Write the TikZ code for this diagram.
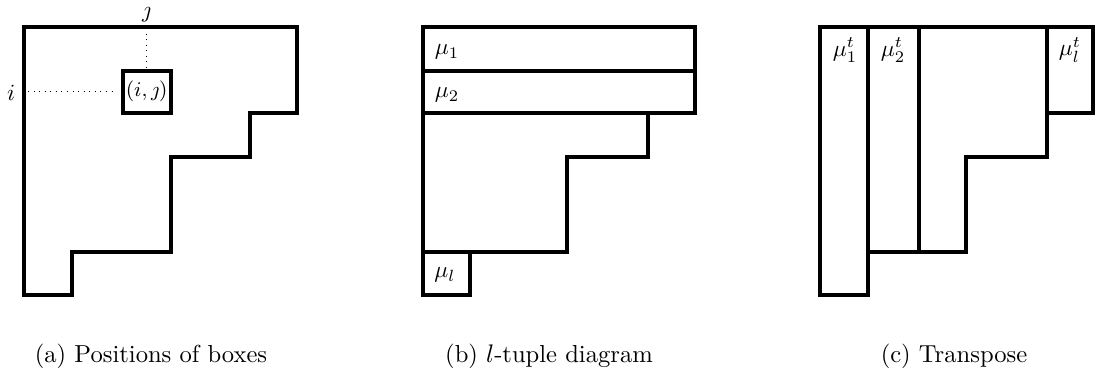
\documentclass[tikz,border=0pt]{standalone}
\usepackage{amsmath}
\usepackage{amssymb}
\usepackage{tikz}

\tikzset{
  thickline/.style={line width=1.7pt, line join=miter},
  caption/.style={anchor=base, font=\fontsize{10.6}{12.7}\selectfont},
}

\begin{document}
\begin{tikzpicture}[x=0.01515cm, y=-0.01515cm]
  \useasboundingbox (0,0) rectangle (1097,385);
  % (a) positions of boxes
  \draw [thickline] (24,26.7) -- (297,26.7) -- (297,112.7) -- (250,112.7) -- (250,156.7) -- (170.7,156.7) -- (170.7,251.7) -- (71.7,251.7) -- (71.7,295) -- (24,295) -- cycle;
  \node (ij) [draw, thickline, minimum width=0.727cm, minimum height=0.636cm, inner sep=0pt] at (146.7,91.7) {\small $(i,\jmath)$};
  \node (jlab) at (146.7,15) {$\jmath$};
  \node (ilab) at (11,93) {$i$};
  \coordinate (jtop) at (146.7,28);
  \coordinate (ileft) at (28,91.7);
  \draw [dotted] (jtop) -- (ij.north);
  \draw [dotted] (ileft) -- ([xshift=-0.06cm]ij.west);
  \node (capa) [caption] at (151,362) {(a)\ Positions of boxes};
  % (b) l-tuple diagram
  \draw [thickline] (422.7,26.7) -- (695,26.7) -- (695,113.3) -- (648.3,113.3) -- (648.3,156.7) -- (567.3,156.7) -- (567.3,251.7) -- (470,251.7) -- (470,295) -- (422.7,295) -- cycle;
  \draw [thickline] (422.7,70.7) -- (695,70.7);
  \draw [thickline] (422.7,113.3) -- (695,113.3);
  \draw [thickline] (422.7,251.7) -- (470,251.7);
  \node (mu1) at (447,52) {$\mu_1$};
  \node (mu2) at (447,95) {$\mu_2$};
  \node (mul) at (445,275) {$\mu_l$};
  \node (capb) [caption] at (549,362) {(b)\ $l$-tuple diagram};
  % (c) transpose
  \draw [thickline] (820,26.7) -- (1093.3,26.7) -- (1093.3,112.7) -- (1047.3,112.7) -- (1047.3,156.7) -- (965.7,156.7) -- (965.7,251.7) -- (868.3,251.7) -- (868.3,295) -- (820,295) -- cycle;
  \draw [thickline] (868.3,26.7) -- (868.3,251.7);
  \draw [thickline] (919.3,26.7) -- (919.3,251.7);
  \draw [thickline] (1047.3,26.7) -- (1047.3,112.7);
  \node (mut1) [inner sep=1pt] at (845,50) {$\mu_1^t$};
  \node (mut2) [inner sep=1pt] at (893,50) {$\mu_2^t$};
  \node (mutl) [inner sep=1pt] at (1070,50) {$\mu_l^t$};
  \node (capc) [caption] at (954,362) {(c)\ Transpose};
\end{tikzpicture}
\end{document}
